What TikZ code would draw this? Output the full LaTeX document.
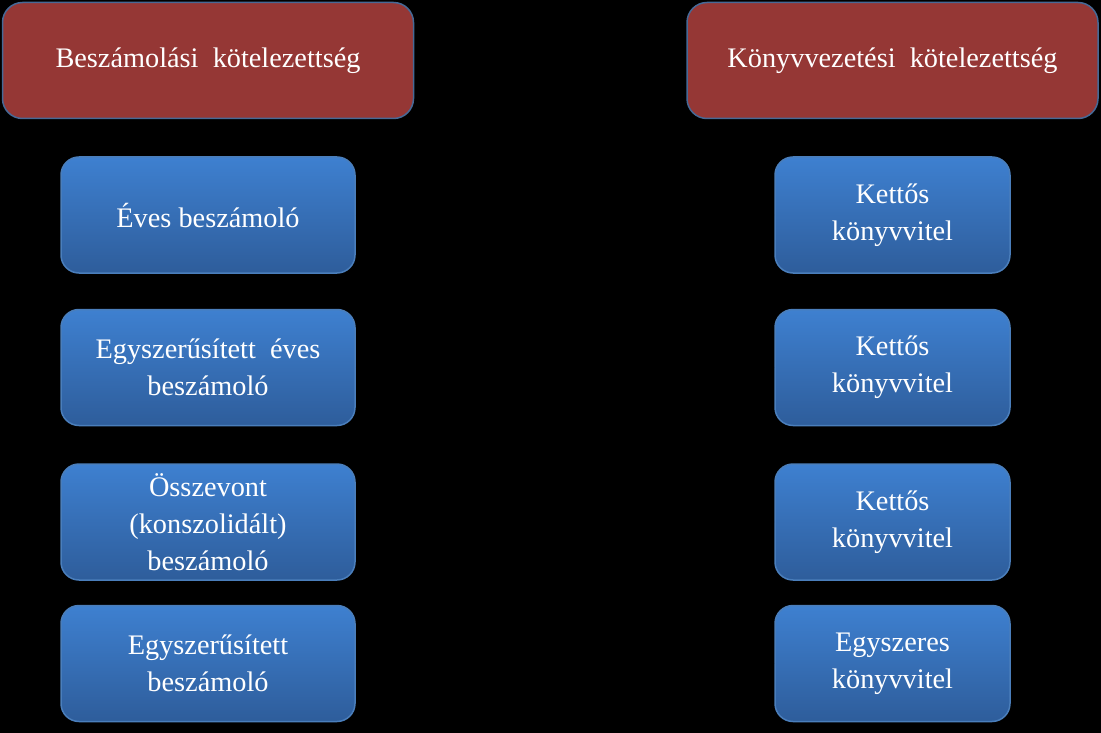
\documentclass[tikz,border=0pt]{standalone}
\usepackage{fontspec}
\setmainfont{Liberation Serif}
\usetikzlibrary{arrows.meta,positioning}

\definecolor{headred}{RGB}{149,55,53}
\definecolor{headline}{RGB}{70,105,150}
\definecolor{bluetop}{RGB}{62,128,208}
\definecolor{bluebot}{RGB}{46,93,155}
\definecolor{blueline}{RGB}{74,126,187}

\begin{document}
\begin{tikzpicture}[
  x=1pt, y=1pt,
  >=Stealth,
  font=\fontsize{28.3}{37}\selectfont,
  head/.style={draw=headline, fill=headred, rounded corners=20pt, line width=1.5pt, minimum width=411pt, minimum height=116pt, align=center, text=white},
  block/.style={draw=blueline, top color=bluetop, bottom color=bluebot, rounded corners=18pt, line width=1.5pt, minimum width=294pt, minimum height=116pt, align=center, text=white},
  rblock/.style={block, minimum width=235pt},
  arrow/.style={-Stealth, thick, draw=black}
]

% ----- BACKGROUND -----
\fill[black] (0,0) rectangle (1101,-733);
\useasboundingbox (0,0) rectangle (1101,-733);

% ----- HEADS -----
\node[head] (hl) at (208,-60.5) {Beszámolási~~kötelezettség};
\node[head] (hr) at (892.5,-60.5) {Könyvvezetési~~kötelezettség};

% ----- LEFT BLOCKS -----
\node[block, below=37pt of hl] (l1) {Éves beszámoló};
\node[block, below=35pt of l1] (l2) {Egyszerűsített~~éves\\beszámoló};
\node[block, below=37pt of l2] (l3) {Összevont\\(konszolidált)\\beszámoló};
\node[block, below=24pt of l3] (l4) {Egyszerűsített\\beszámoló};

% ----- RIGHT BLOCKS -----
\node[rblock, below=37pt of hr] (r1) {Kettős\\könyvvitel};
\node[rblock, below=35pt of r1] (r2) {Kettős\\könyvvitel};
\node[rblock, below=37pt of r2] (r3) {Kettős\\könyvvitel};
\node[rblock, below=24pt of r3] (r4) {Egyszeres\\könyvvitel};

% ----- CONNECTIONS -----
\foreach \i in {1,...,4}
  \draw[arrow] (l\i) -- (r\i);

\end{tikzpicture}
\end{document}
